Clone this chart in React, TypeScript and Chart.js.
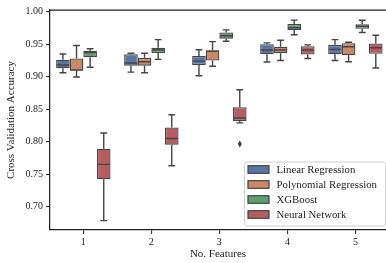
import { useEffect, useRef } from 'react';
import { Chart, registerables } from 'chart.js';

Chart.register(...registerables);

const categories = ['1', '2', '3', '4', '5'];
const seriesNames = ['Linear Regression', 'Polynomial Regression', 'XGBoost', 'Neural Network'];
const seriesColors = ['#5975a4', '#cc8963', '#5f9e6e', '#b55d60'];
const yTickValues = [0.7, 0.75, 0.8, 0.85, 0.9, 0.95, 1.0];

// each entry: [whisker low, q1, median, q3, whisker high]
const linearRegression = [
  [0.906, 0.913, 0.918, 0.926, 0.935],
  [0.907, 0.917, 0.921, 0.9345, 0.936],
  [0.9015, 0.918, 0.924, 0.932, 0.9415],
  [0.9226, 0.9345, 0.941, 0.95, 0.952],
  [0.925, 0.9345, 0.942, 0.949, 0.957],
];
const polynomialRegression = [
  [0.8995, 0.909, 0.9105, 0.928, 0.948],
  [0.906, 0.917, 0.923, 0.929, 0.936],
  [0.916, 0.925, 0.939, 0.9405, 0.954],
  [0.925, 0.936, 0.941, 0.946, 0.956],
  [0.923, 0.933, 0.946, 0.9514, 0.953],
];
const xgboost = [
  [0.9145, 0.93, 0.937, 0.94, 0.943],
  [0.9267, 0.9365, 0.941, 0.9446, 0.957],
  [0.9545, 0.9585, 0.963, 0.968, 0.972],
  [0.9646, 0.972, 0.9754, 0.981, 0.987],
  [0.968, 0.9738, 0.9775, 0.9806, 0.9868],
];
const neuralNetwork = [
  [0.6785, 0.742, 0.765, 0.789, 0.8134],
  [0.763, 0.7954, 0.805, 0.822, 0.8415],
  [0.829, 0.832, 0.8365, 0.853, 0.88],
  [0.928, 0.934, 0.941, 0.947, 0.949],
  [0.9134, 0.9354, 0.9446, 0.951, 0.9637],
];
const neuralNetworkOutliers = [[], [], [0.7965], [], []];
const emptyOutliers = [[], [], [], [], []];

const allSeries = [linearRegression, polynomialRegression, xgboost, neuralNetwork];
const allOutliers = [emptyOutliers, emptyOutliers, emptyOutliers, neuralNetworkOutliers];

const LINE = '#444444';
const SERIF = '"Liberation Serif", "Times New Roman", serif';

const boxPlugin = {
  id: 'boxWhiskers',
  afterDatasetsDraw(chart: any) {
    const ctx = chart.ctx;
    const y = chart.scales.y;
    ctx.save();
    ctx.strokeStyle = LINE;
    ctx.lineWidth = 1.4;
    chart.data.datasets.forEach((ds: any, di: number) => {
      const meta = chart.getDatasetMeta(di);
      const stats = allSeries[di];
      meta.data.forEach((bar: any, i: number) => {
        const [lo, q1, med, q3, hi] = stats[i];
        const cx = bar.x;
        const w = bar.width;
        const half = w / 2 - 0.7;
        const cap = w / 4;
        ctx.beginPath();
        ctx.moveTo(cx - half, y.getPixelForValue(med));
        ctx.lineTo(cx + half, y.getPixelForValue(med));
        ctx.moveTo(cx, y.getPixelForValue(q3));
        ctx.lineTo(cx, y.getPixelForValue(hi));
        ctx.moveTo(cx, y.getPixelForValue(q1));
        ctx.lineTo(cx, y.getPixelForValue(lo));
        ctx.moveTo(cx - cap, y.getPixelForValue(hi));
        ctx.lineTo(cx + cap, y.getPixelForValue(hi));
        ctx.moveTo(cx - cap, y.getPixelForValue(lo));
        ctx.lineTo(cx + cap, y.getPixelForValue(lo));
        ctx.stroke();
        allOutliers[di][i].forEach((v: number) => {
          const py = y.getPixelForValue(v);
          const r = 3;
          ctx.beginPath();
          ctx.moveTo(cx, py - r - 0.5);
          ctx.lineTo(cx + r * 0.7, py);
          ctx.lineTo(cx, py + r + 0.5);
          ctx.lineTo(cx - r * 0.7, py);
          ctx.closePath();
          ctx.fillStyle = LINE;
          ctx.fill();
        });
      });
    });
    ctx.restore();
  },
  afterDraw(chart: any) {
    const ctx = chart.ctx;
    const area = chart.chartArea;
    ctx.save();
    ctx.strokeStyle = '#222';
    ctx.lineWidth = 1.25;
    ctx.beginPath();
    ctx.moveTo(area.left, area.top);
    ctx.lineTo(area.right, area.top);
    ctx.stroke();

    const boxW = 141;
    const boxH = 64;
    const right = area.right - 1;
    const bottom = area.bottom - 4.5;
    const left = right - boxW;
    const top = bottom - boxH;
    ctx.fillStyle = 'rgba(255,255,255,0.85)';
    ctx.strokeStyle = '#d0d0d0';
    ctx.lineWidth = 1;
    ctx.beginPath();
    if ((ctx as any).roundRect) {
      (ctx as any).roundRect(left + 0.5, top + 0.5, boxW, boxH, 2.5);
    } else {
      ctx.rect(left + 0.5, top + 0.5, boxW, boxH);
    }
    ctx.fill();
    ctx.stroke();
    ctx.font = '10.8px ' + SERIF;
    ctx.textBaseline = 'middle';
    ctx.textAlign = 'left';
    seriesNames.forEach((name, i) => {
      const cy = top + 8 + i * 15;
      ctx.fillStyle = seriesColors[i];
      ctx.fillRect(left + 4, cy - 3.8, 21, 7.6);
      ctx.strokeStyle = LINE;
      ctx.lineWidth = 1.2;
      ctx.strokeRect(left + 4, cy - 3.8, 21, 7.6);
      ctx.fillStyle = '#222';
      ctx.fillText(name, left + 32.5, cy + 0.5);
    });
    ctx.restore();
  },
};

export default function App() {
  const canvasRef = useRef<HTMLCanvasElement>(null);

  useEffect(() => {
    document.body.style.margin = '0';
    const canvas = canvasRef.current;
    if (!canvas) return;
    const datasets: any[] = allSeries.map((series, si) => ({
      label: seriesNames[si],
      data: series.map((s, i) => ({ x: i, y: [s[1], s[3]] })),
      backgroundColor: seriesColors[si],
      borderColor: LINE,
      borderWidth: 1.3,
      borderSkipped: false,
      categoryPercentage: 0.8,
      barPercentage: 1.0,
    }));
    const chart = new Chart(canvas, {
      type: 'bar',
      data: { datasets },
      plugins: [boxPlugin],
      options: {
        animation: false,
        responsive: false,
        maintainAspectRatio: false,
        layout: { padding: { top: 10, right: 0, left: 0, bottom: 0 } },
        plugins: {
          legend: { display: false },
          tooltip: { enabled: false },
        },
        scales: {
          x: {
            type: 'linear',
            offset: false,
            min: -0.49,
            max: 4.45,
            afterBuildTicks: (scale: any) => {
              scale.ticks = categories.map((_, i) => ({ value: i }));
            },
            afterFit: (scale: any) => {
              scale.height = 33;
            },
            ticks: {
              callback: (v: any) => categories[Number(v)] ?? '',
              font: { family: SERIF, size: 10 },
              color: '#222',
              padding: 2,
              autoSkip: false,
              maxRotation: 0,
            },
            grid: {
              display: true,
              offset: false,
              drawOnChartArea: false,
              drawTicks: true,
              tickLength: 4,
              color: '#333',
              lineWidth: 1.1,
            },
            border: { display: true, color: '#222', width: 1.25 },
            title: {
              display: true,
              text: 'No. Features',
              font: { family: SERIF, size: 11 },
              color: '#222',
              padding: { top: 0, bottom: 2 },
            },
          },
          y: {
            type: 'linear',
            min: 0.6641,
            max: 1.0026,
            afterBuildTicks: (scale: any) => {
              scale.ticks = yTickValues.map((v) => ({ value: v }));
            },
            afterFit: (scale: any) => {
              scale.width = 50;
            },
            ticks: {
              callback: (v: any) => Number(v).toFixed(2),
              font: { family: SERIF, size: 10 },
              color: '#222',
              padding: 3,
            },
            grid: {
              display: true,
              drawOnChartArea: false,
              drawTicks: true,
              tickLength: 4,
              color: '#333',
              lineWidth: 1.1,
            },
            border: { display: true, color: '#222', width: 1.25 },
            title: {
              display: true,
              text: 'Cross Validation Accuracy',
              font: { family: SERIF, size: 11 },
              color: '#222',
              padding: { top: 5, bottom: 0 },
            },
          },
        },
      },
    });
    return () => chart.destroy();
  }, []);

  return (
    <div style={{ position: 'absolute', left: 0, top: 0, width: 386, height: 263, background: '#fff' }}>
      <canvas ref={canvasRef} width={386} height={263} style={{ width: 386, height: 263, display: 'block' }} />
    </div>
  );
}
